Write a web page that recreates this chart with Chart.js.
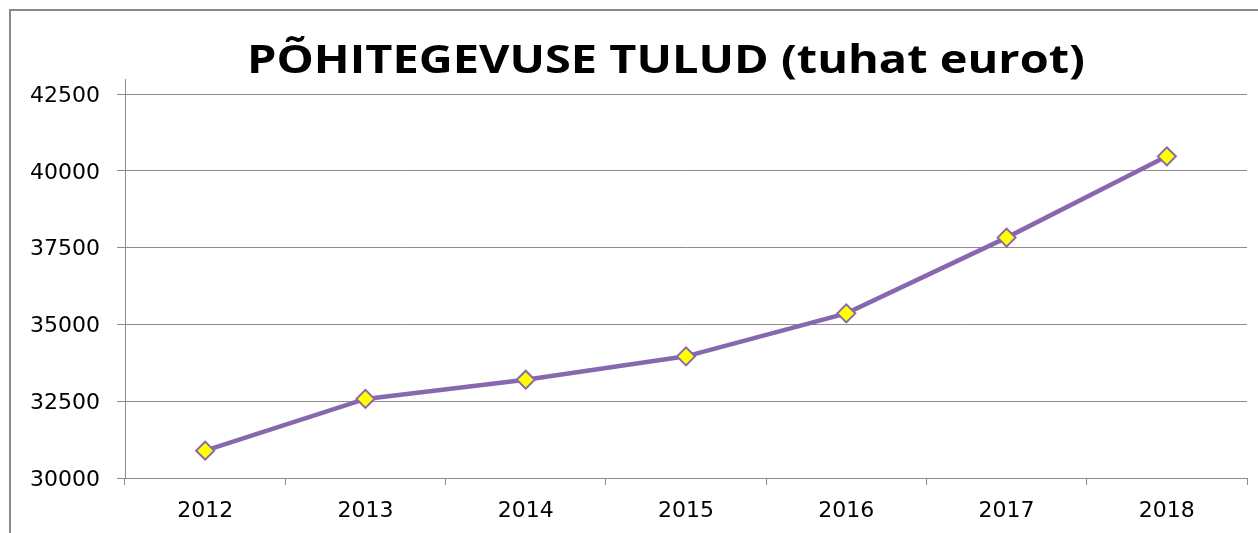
<!DOCTYPE html>
<html>
<head>
<meta charset="utf-8">
<script src="https://cdn.jsdelivr.net/npm/chart.js@4/dist/chart.umd.min.js"></script>
<style>
  html, body { margin: 0; padding: 0; background: #fff; }
  #wrap { width: 1258px; height: 533px; position: relative; }
</style>
</head>
<body>
<div id="wrap"><canvas id="tulud" width="1258" height="533"></canvas></div>
<script>
// Põhitegevuse tulud chart

const titleText = 'PÕHITEGEVUSE TULUD (tuhat eurot)';
const years = ['2012', '2013', '2014', '2015', '2016', '2017', '2018'];
const revenue = [30890, 32575, 33200, 33960, 35360, 37825, 40470];
const yMin = 30000;
const yMax = 42500;
const yStep = 2500;

const GRID = '#8c8c8c';
const PURPLE = '#8768ae';

// frame round the chart, axis stub above the plot and the title
const chartDecor = {
  id: 'chartDecor',
  afterDraw: function(chart) {
    const ctx = chart.ctx;
    const area = chart.chartArea;
    ctx.save();
    ctx.strokeStyle = '#8a8a8a';
    ctx.lineWidth = 2;
    ctx.beginPath();
    ctx.moveTo(10, 540);
    ctx.lineTo(10, 10);
    ctx.lineTo(1270, 10);
    ctx.stroke();

    ctx.strokeStyle = GRID;
    ctx.lineWidth = 1;
    ctx.beginPath();
    ctx.moveTo(Math.round(area.left) + 0.5, area.top - 15);
    ctx.lineTo(Math.round(area.left) + 0.5, area.top);
    ctx.stroke();

    ctx.fillStyle = '#000';
    ctx.font = 'bold 39px "Open Sans"';
    ctx.textAlign = 'center';
    ctx.textBaseline = 'alphabetic';
    const w = ctx.measureText(titleText).width;
    const sx = 838 / w;
    ctx.translate(666, 73);
    ctx.scale(sx, 1);
    ctx.fillText(titleText, 0, 0);
    ctx.restore();
  }
};

const tuludChart = new Chart(document.getElementById('tulud'), {
  type: 'line',
  data: {
    labels: years,
    datasets: [{
      data: revenue,
      borderColor: PURPLE,
      borderWidth: 4.5,
      pointStyle: 'rectRot',
      pointRadius: 9,
      pointHoverRadius: 9,
      pointBackgroundColor: '#ffff00',
      pointBorderColor: PURPLE,
      pointBorderWidth: 2,
      tension: 0
    }]
  },
  options: {
    responsive: false,
    animation: false,
    layout: {
      padding: { left: 9, right: 9, top: 94, bottom: 0 }
    },
    plugins: {
      legend: { display: false },
      title: { display: false },
      tooltip: { enabled: false }
    },
    scales: {
      x: {
        offset: true,
        afterFit: function(scale) { scale.height = 55; },
        grid: {
          offset: true,
          drawOnChartArea: false,
          drawTicks: true,
          tickLength: 7,
          color: GRID
        },
        border: { color: GRID },
        ticks: {
          color: '#000',
          padding: 13,
          font: { family: 'DejaVu Sans', size: 22 }
        }
      },
      y: {
        min: yMin,
        max: yMax,
        afterFit: function(scale) { scale.width = 116; },
        grid: {
          color: GRID,
          tickLength: 8
        },
        border: { color: GRID },
        ticks: {
          stepSize: yStep,
          color: '#000',
          padding: 17,
          labelOffset: 2,
          font: { family: 'DejaVu Sans', size: 22 },
          callback: function(value) { return String(value); }
        }
      }
    }
  },
  plugins: [chartDecor]
});
</script>
</body>
</html>
